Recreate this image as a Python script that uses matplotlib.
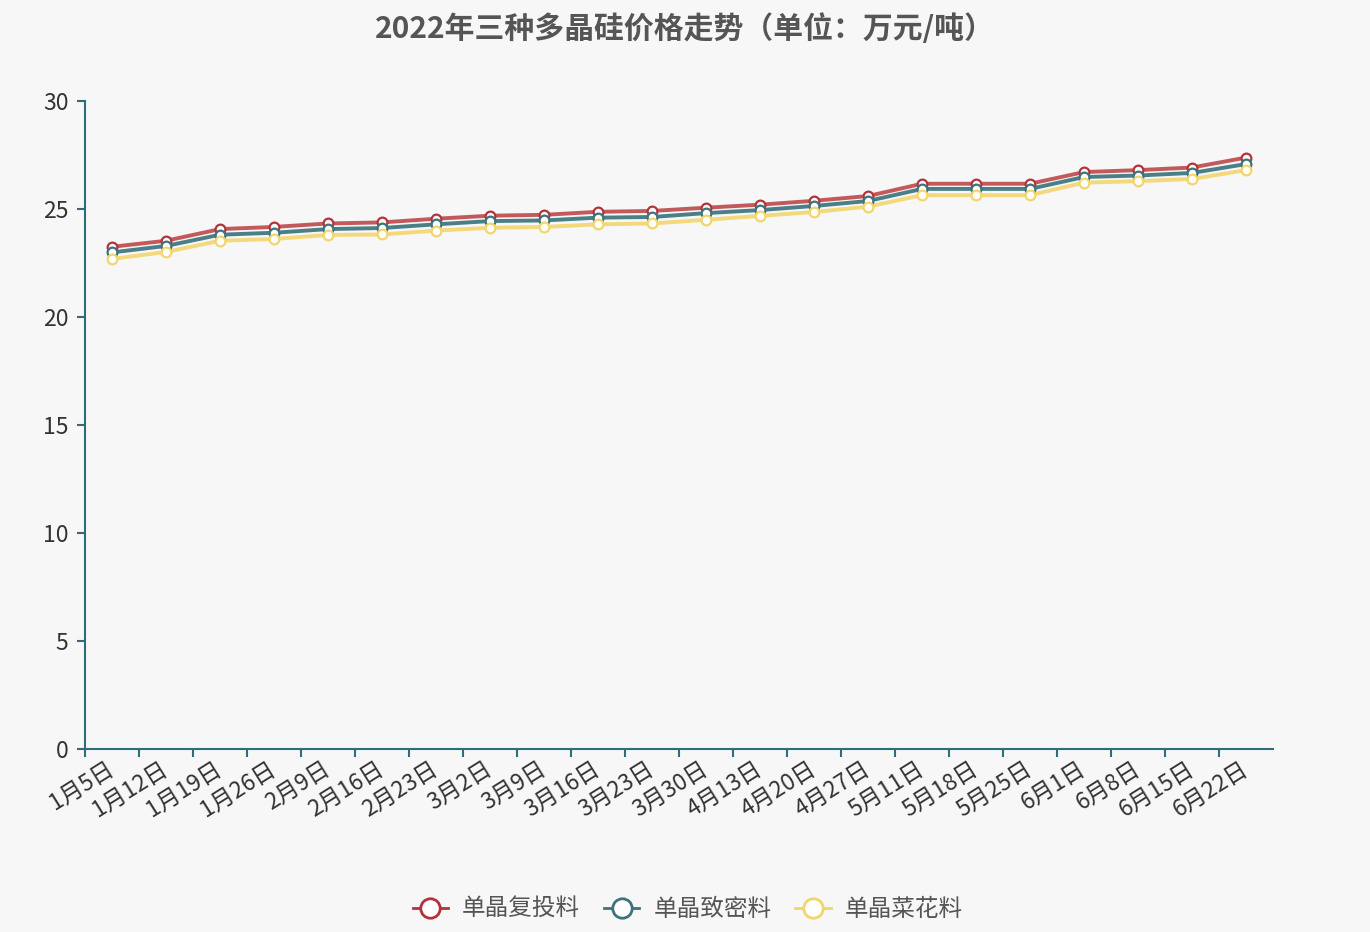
"""2022年三种多晶硅价格走势 (万元/吨), recreated with matplotlib."""

import matplotlib
matplotlib.use('Agg')
import matplotlib.pyplot as plt
from matplotlib.lines import Line2D
import numpy as np

plt.rcParams['font.family'] = ['Noto Sans CJK SC', 'DejaVu Sans']

dates = ['1月5日', '1月12日', '1月19日', '1月26日', '2月9日', '2月16日',
         '2月23日', '3月2日', '3月9日', '3月16日', '3月23日', '3月30日',
         '4月13日', '4月20日', '4月27日', '5月11日', '5月18日', '5月25日',
         '6月1日', '6月8日', '6月15日', '6月22日']

fu_tou = [23.25, 23.53, 24.07, 24.17, 24.33, 24.38, 24.55, 24.69, 24.73, 24.87,
          24.91, 25.06, 25.20, 25.38, 25.60, 26.17, 26.17, 26.17, 26.71, 26.80,
          26.92, 27.38]
zhi_mi = [22.99, 23.29, 23.81, 23.90, 24.07, 24.12, 24.29, 24.44, 24.47, 24.60,
          24.63, 24.81, 24.95, 25.14, 25.37, 25.93, 25.93, 25.93, 26.48, 26.55,
          26.67, 27.08]
cai_hua = [22.69, 23.01, 23.53, 23.61, 23.80, 23.82, 24.00, 24.13, 24.17, 24.29,
           24.33, 24.50, 24.68, 24.86, 25.11, 25.64, 25.64, 25.64, 26.22, 26.29,
           26.39, 26.80]

series_names = ['单晶复投料', '单晶致密料', '单晶菜花料']
line_colors = ['#c25a5c', '#4b7f88', '#f3d97c']
edge_colors = ['#b5323a', '#3c737d', '#f2d56b']
axis_color = '#2f6e78'
bg = '#f7f7f7'

fig = plt.figure(figsize=(13.7, 9.32), dpi=100, facecolor=bg)
ax = fig.add_axes([85 / 1370, 183 / 932, 1188 / 1370, 648 / 932], facecolor=bg)

x = np.arange(len(dates))
for vals, lc, ec in zip([fu_tou, zhi_mi, cai_hua], line_colors, edge_colors):
    ax.plot(x, vals, color=lc, lw=2.8, zorder=3, solid_joinstyle='round')
    ax.plot(x, vals, ls='none', marker='o', ms=7, mfc='white', mec=ec,
            mew=1.6, zorder=4)

ax.set_xlim(-0.5, len(dates) - 0.5)
ax.set_ylim(0, 30)
ax.set_yticks(np.arange(0, 31, 5))

# ticks at category boundaries (none at the far end), labels at centres
ax.set_xticks(np.arange(-0.5, len(dates) - 1, 1.0))
ax.set_xticklabels([])
ax.set_xticks(x, minor=True)
ax.set_xticklabels(dates, minor=True, rotation=32, ha='right', va='center',
                   rotation_mode='anchor', fontsize=16.5, color='#333333')
ax.tick_params(axis='x', which='minor', length=0, pad=13)
ax.tick_params(axis='x', which='major', length=6, width=1.5, color=axis_color)
ax.tick_params(axis='y', length=6, width=1.5, color=axis_color,
               labelsize=16.5, labelcolor='#333333', pad=6)

for side in ['top', 'right']:
    ax.spines[side].set_visible(False)
for side in ['left', 'bottom']:
    ax.spines[side].set_color(axis_color)
    ax.spines[side].set_linewidth(1.5)

fig.text(0.5, 0.969, '2022年三种多晶硅价格走势（单位：万元/吨）', ha='center',
         va='center', fontsize=21.5, fontweight='bold', color='#555555')

handles = [Line2D([], [], color=ec, lw=2, marker='o', ms=14, mfc='white',
                  mec=ec, mew=2) for ec in edge_colors]
fig.legend(handles, series_names, loc='center', bbox_to_anchor=(0.502, 0.024),
           ncol=3, frameon=False, fontsize=17, labelcolor='#555555',
           handlelength=1.5, handletextpad=0.6, columnspacing=1.0)

fig.savefig('out.png', dpi=100, facecolor=bg)
